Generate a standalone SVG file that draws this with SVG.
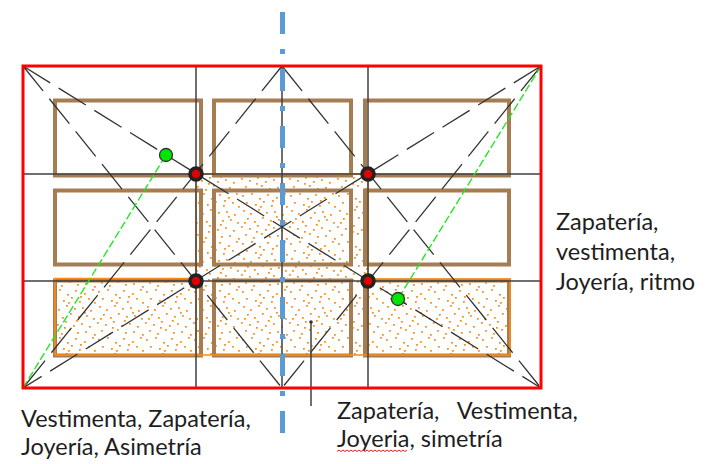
<svg xmlns="http://www.w3.org/2000/svg" width="708" height="464" viewBox="0 0 708 464">
<style>
.box{fill:none;stroke:#a67c52;stroke-width:4}
.dotted{fill:url(#dots)}
.orl{fill:none;stroke:#ff8a10;stroke-width:1.5}
.grid{stroke:#404040;stroke-width:1.5;fill:none}
.diag{stroke:#333;stroke-width:1.3;stroke-dasharray:32 10;fill:none}
.green{stroke:#1ee81e;stroke-width:1.4;stroke-dasharray:8 3;fill:none}
.axis{stroke:#5b9bd5;stroke-width:5;stroke-dasharray:22 15 5 15;fill:none}
.node{fill:#e00000;stroke:#222;stroke-width:3.5}
.gdot{fill:#00e600;stroke:#333;stroke-width:1.3}
.lbl{font-family:Lato,"Liberation Sans",sans-serif;font-size:23.5px;fill:#1e1e1e}
</style>
<defs>
<pattern id="dots" patternUnits="userSpaceOnUse" width="48" height="48">
<path fill="#f7901e" d="M2 3h1.8v1.8h-1.8zM11 1h1.8v1.8h-1.8zM19 6h1.8v1.8h-1.8zM27 2h1.8v1.8h-1.8zM36 5h1.8v1.8h-1.8zM44 1h1.8v1.8h-1.8zM6 10h1.8v1.8h-1.8zM15 12h1.8v1.8h-1.8zM23 9h1.8v1.8h-1.8zM31 13h1.8v1.8h-1.8zM40 10h1.8v1.8h-1.8zM46 14h1.8v1.8h-1.8zM3 18h1.8v1.8h-1.8zM10 21h1.8v1.8h-1.8zM18 17h1.8v1.8h-1.8zM26 20h1.8v1.8h-1.8zM34 19h1.8v1.8h-1.8zM42 22h1.8v1.8h-1.8zM7 26h1.8v1.8h-1.8zM14 29h1.8v1.8h-1.8zM22 25h1.8v1.8h-1.8zM30 28h1.8v1.8h-1.8zM38 27h1.8v1.8h-1.8zM45 30h1.8v1.8h-1.8zM1 34h1.8v1.8h-1.8zM9 36h1.8v1.8h-1.8zM17 33h1.8v1.8h-1.8zM25 37h1.8v1.8h-1.8zM33 35h1.8v1.8h-1.8zM41 38h1.8v1.8h-1.8zM5 42h1.8v1.8h-1.8zM13 45h1.8v1.8h-1.8zM21 41h1.8v1.8h-1.8zM29 44h1.8v1.8h-1.8zM37 43h1.8v1.8h-1.8zM46 46h1.8v1.8h-1.8zM32 8h1.8v1.8h-1.8zM20 14h1.8v1.8h-1.8zM4 30h1.8v1.8h-1.8zM28 32h1.8v1.8h-1.8zM16 39h1.8v1.8h-1.8zM36 24h1.8v1.8h-1.8z"/>
</pattern>
</defs>
<rect width="708" height="464" fill="#fff"/>
<g id="fills">
<rect class="dotted" x="55" y="279" width="146" height="76"/>
<rect class="dotted" x="196" y="174" width="172" height="181"/>
<rect class="dotted" x="368" y="279" width="141" height="76"/>
</g>
<g id="boxes">
<rect id="box-r1c1" class="box" x="55" y="100.5" width="146" height="75"/>
<rect id="box-r1c2" class="box" x="214" y="100.5" width="137" height="75"/>
<rect id="box-r1c3" class="box" x="365" y="100.5" width="144" height="75"/>
<rect id="box-r2c1" class="box" x="55" y="190.5" width="146" height="74"/>
<rect id="box-r2c2" class="box" x="214" y="190.5" width="137" height="74"/>
<rect id="box-r2c3" class="box" x="365" y="190.5" width="144" height="74"/>
<rect id="box-r3c1" class="box" x="55" y="280.5" width="146" height="75"/>
<rect id="box-r3c2" class="box" x="214" y="280.5" width="137" height="75"/>
<rect id="box-r3c3" class="box" x="365" y="280.5" width="144" height="75"/>
</g>
<g id="orange-outlines">
<path class="orl" d="M55 355V278.5H201M196 355V174H368V355M368 279H510V355M55 355H510"/>
</g>
<g id="connectors">
<path class="grid" d="M196 66V388M368 66V388M23 174H541M23 281H541M282 66V388"/>
<path class="diag" d="M23 66L541 388M541 66L23 388M23 66L282 388M282 66L23 388M282 66L541 388M541 66L282 388"/>
<path class="green" d="M23 388L166 155M541 66L398 299"/>
<path class="grid" d="M311 322V406" stroke-width="1.3"/>
<circle cx="311" cy="322" r="1.8" fill="#333"/>
</g>
<g id="frame">
<rect x="23" y="66" width="518" height="322" fill="none" stroke="#ff0000" stroke-width="3"/>
</g>
<g id="axis">
<path class="axis" d="M282.5 12V434"/>
</g>
<g id="nodes">
<circle id="n1" class="node" cx="196" cy="174" r="6"/>
<circle id="n2" class="node" cx="368" cy="174" r="6"/>
<circle id="n3" class="node" cx="196" cy="281" r="6"/>
<circle id="n4" class="node" cx="368" cy="281" r="6"/>
<circle id="g1" class="gdot" cx="166" cy="155" r="6.5"/>
<circle id="g2" class="gdot" cx="398" cy="299" r="6.5"/>
</g>
<g id="labels">
<text class="lbl" x="556" y="230">Zapatería,</text>
<text class="lbl" x="556" y="260">vestimenta,</text>
<text class="lbl" x="556" y="290">Joyería, ritmo</text>
<text class="lbl" x="21" y="427">Vestimenta, Zapatería,</text>
<text class="lbl" x="21" y="455">Joyería, Asimetría</text>
<text class="lbl" x="337" y="419" xml:space="preserve">Zapatería,   Vestimenta,</text>
<text class="lbl" x="337" y="447">Joyeria, simetría</text>
<path d="M337 451.5l2 -1.5l2 1.5l2 -1.5l2 1.5l2 -1.5l2 1.5l2 -1.5l2 1.5l2 -1.5l2 1.5l2 -1.5l2 1.5l2 -1.5l2 1.5l2 -1.5l2 1.5l2 -1.5l2 1.5l2 -1.5l2 1.5l2 -1.5l2 1.5l2 -1.5l2 1.5l2 -1.5l2 1.5l2 -1.5l2 1.5l2 -1.5l2 1.5l2 -1.5l2 1.5l2 -1.5l2 1.5l2 -1.5" fill="none" stroke="#e02020" stroke-width="1"/>
</g>
</svg>
